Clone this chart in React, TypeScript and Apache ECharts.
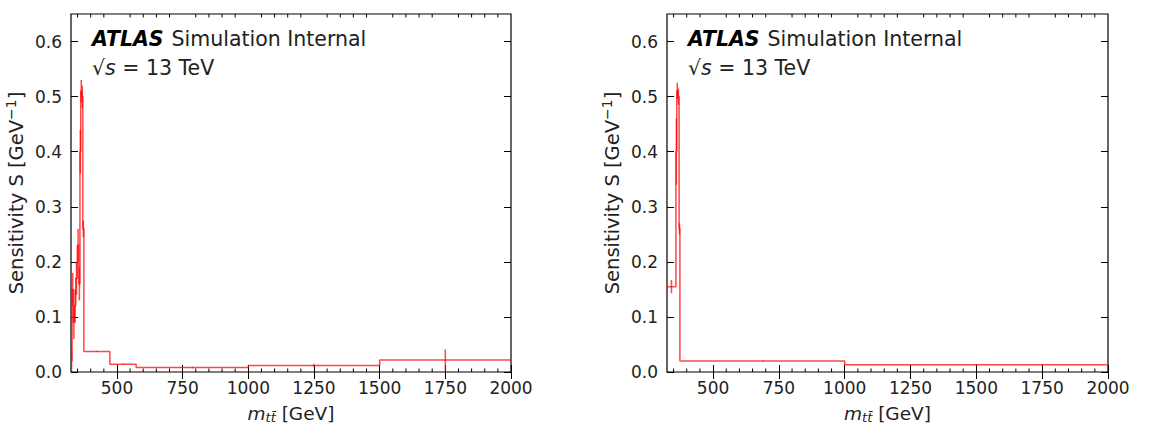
import React, { useEffect, useRef } from "react";
import * as echarts from "echarts";

// ---- data ----
const xMin = 325;
const xMax = 2000;
const yMin = 0;
const yMax = 0.65;
const majorTicksX = [500, 750, 1000, 1250, 1500, 1750, 2000];
const minorTicksX = [350, 400, 450, 550, 600, 650, 700, 800, 850, 900, 950, 1050, 1100, 1150, 1200, 1300, 1350, 1400, 1450, 1550, 1600, 1650, 1700, 1800, 1850, 1900, 1950];
const yLabels = [0, 0.1, 0.2, 0.3, 0.4, 0.5, 0.6];

// left panel histogram (bin low edges + final edge) and values
const leftEdges = [325, 329, 334, 338, 343, 349, 355, 359, 362, 366, 370, 374, 473, 573, 1000, 1500, 2000];
const leftValues = [0.02, 0.15, 0.09, 0.12, 0.17, 0.23, 0.16, 0.40, 0.51, 0.50, 0.26, 0.037, 0.014, 0.008, 0.012, 0.022];
const leftErrX = [327, 331.5, 336, 340.5, 346, 352, 357, 360.5, 364, 368, 372, 423, 523, 787, 1250, 1750];
const leftErrY = [0.02, 0.15, 0.09, 0.12, 0.17, 0.23, 0.16, 0.40, 0.51, 0.50, 0.26, 0.037, 0.014, 0.008, 0.012, 0.022];
const leftErrE = [0.02, 0.03, 0.03, 0.03, 0.03, 0.03, 0.03, 0.04, 0.02, 0.02, 0.015, 0.001, 0.001, 0.0015, 0.003, 0.019];

// right panel histogram
const rightEdges = [325, 359, 362, 366, 371, 374, 1000, 2000];
const rightValues = [0.155, 0.40, 0.51, 0.50, 0.26, 0.020, 0.013];
const rightErrX = [342, 360.5, 364, 368.5, 372.5, 690, 1500, 1750];
const rightErrY = [0.155, 0.40, 0.51, 0.50, 0.26, 0.020, 0.013, 0.013];
const rightErrE = [0.012, 0.06, 0.015, 0.015, 0.01, 0.001, 0.0015, 0.0015];

const FONT = "DejaVu Sans";
const RED = "rgba(255,0,0,0.72)";
const TXT = "#222";
const W = 1167;
const H = 439;

function stepData(edges: number[], values: number[]) {
  const d: number[][] = values.map((v, i) => [edges[i], v]);
  d.push([edges[edges.length - 1], values[values.length - 1]]);
  return d;
}

function errData(xs: number[], ys: number[], es: number[]) {
  return xs.map((x, i) => [x, ys[i], es[i]]);
}

export default function App() {
  const ref = useRef<HTMLDivElement>(null);
  useEffect(() => {
    if (!ref.current) return;
    const chart = echarts.init(ref.current, undefined, { renderer: "svg" });

    const grids = [
      { left: 71, top: 14, width: 440, height: 358 },
      { left: 667, top: 14, width: 441, height: 358 },
    ];

    const xAxes: any[] = [];
    const yAxes: any[] = [];
    const series: any[] = [];
    const graphics: any[] = [];

    const panels = [
      { edges: leftEdges, values: leftValues, ex: leftErrX, ey: leftErrY, ee: leftErrE },
      { edges: rightEdges, values: rightValues, ex: rightErrX, ey: rightErrY, ee: rightErrE },
    ];

    panels.forEach((p, g) => {
      const base = xAxes.length;
      const common = {
        type: "value",
        gridIndex: g,
        min: xMin,
        max: xMax,
        splitLine: { show: false },
        axisLine: { show: false },
      };
      xAxes.push({
        ...common,
        position: "bottom",
        axisTick: { show: true, inside: true, length: 7, customValues: majorTicksX, lineStyle: { color: "#000", width: 1 } },
        axisLabel: {
          show: true,
          customValues: majorTicksX,
          formatter: (v: number) => String(v),
          fontFamily: FONT,
          fontSize: 17,
          color: TXT,
          margin: 7,
        },
        name: "{i|m}{sub|tt\u0304} [GeV]",
        nameLocation: "middle",
        nameGap: 30,
        nameTextStyle: {
          fontFamily: FONT,
          fontSize: 18.5,
          color: TXT,
          verticalAlign: "top",
          rich: {
            i: { fontFamily: FONT, fontSize: 18.5, fontStyle: "italic", color: TXT },
            sub: { fontFamily: FONT, fontSize: 13, fontStyle: "italic", color: TXT, padding: [9, 0, 0, 0] },
          },
        },
      });
      xAxes.push({
        ...common,
        position: "top",
        axisTick: { show: true, inside: true, length: 7, customValues: majorTicksX, lineStyle: { color: "#000", width: 1 } },
        axisLabel: { show: false },
      });

      const yBase = yAxes.length;
      const ycommon = {
        type: "value",
        gridIndex: g,
        min: yMin,
        max: yMax,
        splitLine: { show: false },
        axisLine: { show: false },
      };
      yAxes.push({
        ...ycommon,
        position: "left",
        axisTick: { show: true, inside: true, length: 7, customValues: yLabels, lineStyle: { color: "#000", width: 1 } },
        axisLabel: {
          show: true,
          customValues: yLabels,
          formatter: (v: number) => v.toFixed(1),
          fontFamily: FONT,
          fontSize: 17,
          color: TXT,
          margin: 9,
        },
        name: "Sensitivity S [GeV{sup|\u22121}]",
        nameLocation: "middle",
        nameGap: 43,
        nameTextStyle: {
          fontFamily: FONT,
          fontSize: 19.5,
          color: TXT,
          rich: {
            sup: { fontFamily: FONT, fontSize: 14, color: TXT, padding: [0, 0, 10, 0] },
          },
        },
      });
      yAxes.push({
        ...ycommon,
        position: "right",
        axisTick: { show: true, inside: true, length: 7, customValues: yLabels, lineStyle: { color: "#000", width: 1 } },
        axisLabel: { show: false },
      });

      // minor ticks on bottom and top edges
      series.push({
        type: "custom",
        xAxisIndex: base,
        yAxisIndex: yBase,
        data: minorTicksX.map((x) => [x]),
        clip: false,
        silent: true,
        renderItem: (params: any, api: any) => {
          const x = api.value(0);
          const b = api.coord([x, yMin]);
          const t = api.coord([x, yMax]);
          return {
            type: "group",
            children: [
              { type: "line", shape: { x1: b[0], y1: b[1], x2: b[0], y2: b[1] - 3.5 }, style: { stroke: "#000", lineWidth: 1 } },
              { type: "line", shape: { x1: t[0], y1: t[1], x2: t[0], y2: t[1] + 3.5 }, style: { stroke: "#000", lineWidth: 1 } },
            ],
          };
        },
      });

      series.push({
        type: "line",
        xAxisIndex: base,
        yAxisIndex: yBase,
        step: "end",
        data: stepData(p.edges, p.values),
        showSymbol: false,
        symbol: "none",
        lineStyle: { color: RED, width: 1.5 },
        clip: true,
        silent: true,
      });
      series.push({
        type: "custom",
        xAxisIndex: base,
        yAxisIndex: yBase,
        data: errData(p.ex, p.ey, p.ee),
        clip: true,
        silent: true,
        renderItem: (params: any, api: any) => {
          const x = api.value(0);
          const y = api.value(1);
          const e = api.value(2);
          const a = api.coord([x, y - e]);
          const b = api.coord([x, y + e]);
          return {
            type: "line",
            shape: { x1: a[0], y1: a[1], x2: b[0], y2: b[1] },
            style: { stroke: RED, lineWidth: 1.5 },
          };
        },
      });

      const tx = grids[g].left + 21;
      graphics.push({
        type: "text",
        left: tx,
        top: 28,
        style: {
          text: "{b|ATLAS}{n|Simulation Internal}",
          rich: {
            b: { fontFamily: FONT, fontSize: 20.5, fontWeight: "bold", fontStyle: "italic", fill: "#000" },
            n: { fontFamily: FONT, fontSize: 20.5, fill: TXT, padding: [0, 0, 0, 8] },
          },
        },
      });
      graphics.push({
        type: "text",
        left: tx,
        top: 57,
        style: {
          text: "{n|\u221A}{i|s}{n| = 13 TeV}",
          rich: {
            n: { fontFamily: FONT, fontSize: 20.5, fill: TXT },
            i: { fontFamily: FONT, fontSize: 20.5, fontStyle: "italic", fill: TXT },
          },
        },
      });
    });

    chart.setOption({
      animation: false,
      backgroundColor: "#fff",
      grid: grids.map((g) => ({
        ...g,
        show: true,
        borderColor: "#000",
        borderWidth: 1.2,
        backgroundColor: "transparent",
        containLabel: false,
      })),
      xAxis: xAxes,
      yAxis: yAxes,
      series,
      graphic: graphics,
    });

    return () => chart.dispose();
  }, []);

  return (
    <div
      ref={ref}
      style={{ position: "absolute", left: 0, top: 0, width: W, height: H, background: "#fff" }}
    />
  );
}
